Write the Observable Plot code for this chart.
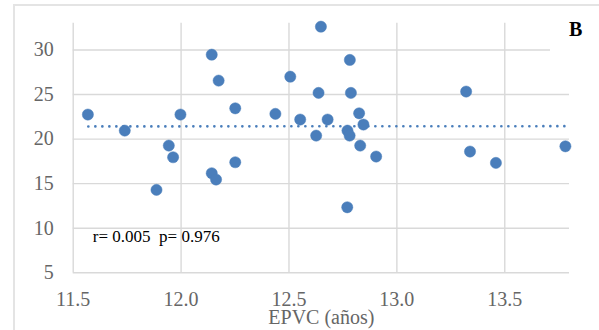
<!DOCTYPE html>
<html>
<head>
<meta charset="utf-8">
<script src="https://cdn.jsdelivr.net/npm/d3@7"></script>
<script src="https://cdn.jsdelivr.net/npm/@observablehq/plot@0.6"></script>
<style>
  body { margin: 0; background: #fff; overflow: hidden; }
  #wrap { position: relative; width: 599px; height: 330px; overflow: hidden; background: #fff; }
  #frame { position: absolute; left: 13px; top: 4px; width: 700px; height: 400px;
           border: 2px solid #e4e4e4; box-sizing: border-box; }
  #chart { position: absolute; left: 0; top: 0; }
  #chart svg text { white-space: pre; }
  #panel { position: absolute; left: 550px; top: 10px; width: 49px; height: 44px; background: #fff; }
  #panel span { position: absolute; left: 19px; top: 8px; font: bold 20px "Liberation Serif", serif;
                line-height: 23px; color: #000; }
</style>
</head>
<body>
<div id="wrap">
  <div id="frame"></div>
  <div id="chart"></div>
  <div id="panel"><span id="panelLabel"></span></div>
</div>
<script>
// EPVC (years) for each subject
const epvc = [
  11.568, 11.739, 11.997, 11.943, 11.963, 11.886,
  12.142, 12.174, 12.251, 12.437, 12.506, 12.552,
  12.648, 12.637, 12.679, 12.626, 12.782, 12.787,
  12.825, 12.845, 12.771, 12.781, 12.830, 12.904,
  12.770, 12.142, 12.162, 12.251, 13.321, 13.339,
  13.459, 13.781
];
// paired outcome values
const outcome = [
  22.75, 20.95, 22.75, 19.27, 17.96, 14.30,
  29.47, 26.56, 23.45, 22.83, 27.00, 22.19,
  32.61, 25.18, 22.19, 20.39, 28.88, 25.18,
  22.89, 21.63, 20.95, 20.39, 19.27, 18.04,
  12.35, 16.17, 15.46, 17.40, 25.33, 18.60,
  17.33, 19.19
];
// linear trend line (endpoints)
const trendX = [11.57, 13.78];
const trendY = [21.42, 21.45];

const xTicks = [11.5, 12.0, 12.5, 13.0, 13.5];
const yTicks = [5, 10, 15, 20, 25, 30];
const xTitle = "EPVC (años)";
const statsLabel = "r= 0.005  p= 0.976";
const panel = "B";

const blue = "#4a7ebb";
const gridColor = "#d9d9d9";
const tickColor = "#666666";

const points = epvc.map((x, i) => ({x, y: outcome[i]}));
const trend = trendX.map((x, i) => ({x, y: trendY[i]}));

const chart = Plot.plot({
  width: 599,
  height: 330,
  marginLeft: 72.7,
  marginRight: 30,
  marginTop: 22.7,
  marginBottom: 57.7,
  style: {fontFamily: "'Liberation Serif', serif", fontSize: "20px", background: "transparent", overflow: "visible"},
  x: {domain: [11.5, 13.8]},
  y: {domain: [5, 33]},
  marks: [
    Plot.gridX(xTicks, {stroke: gridColor, strokeOpacity: 1, strokeWidth: 1.4}),
    Plot.gridY(yTicks, {stroke: gridColor, strokeOpacity: 1, strokeWidth: 1.4}),
    Plot.axisX(xTicks, {tickSize: 0, tickPadding: 18.8, tickFormat: d3.format(".1f"), fill: tickColor, label: null, fontSize: 20}),
    Plot.axisY(yTicks, {tickSize: 0, tickPadding: 19.4, fill: tickColor, label: null, fontSize: 20}),
    Plot.line(trend, {x: "x", y: "y", stroke: blue, strokeWidth: 2.6, strokeDasharray: "0.1 6.9", strokeLinecap: "round"}),
    Plot.dot(points, {x: "x", y: "y", r: 5.6, fill: blue, stroke: blue, strokeWidth: 0.5}),
    Plot.text([statsLabel], {text: d => d, frameAnchor: "bottom-left", textAnchor: "start", lineAnchor: "bottom",
      dx: 19.6, dy: -30.6, fontSize: 17, fill: "#000"}),
    Plot.text([xTitle], {text: d => d, frameAnchor: "bottom", lineAnchor: "bottom", dy: 50.8, fontSize: 20, fill: tickColor})
  ]
});
document.getElementById("chart").appendChild(chart);
document.getElementById("panelLabel").textContent = panel;
</script>
</body>
</html>
